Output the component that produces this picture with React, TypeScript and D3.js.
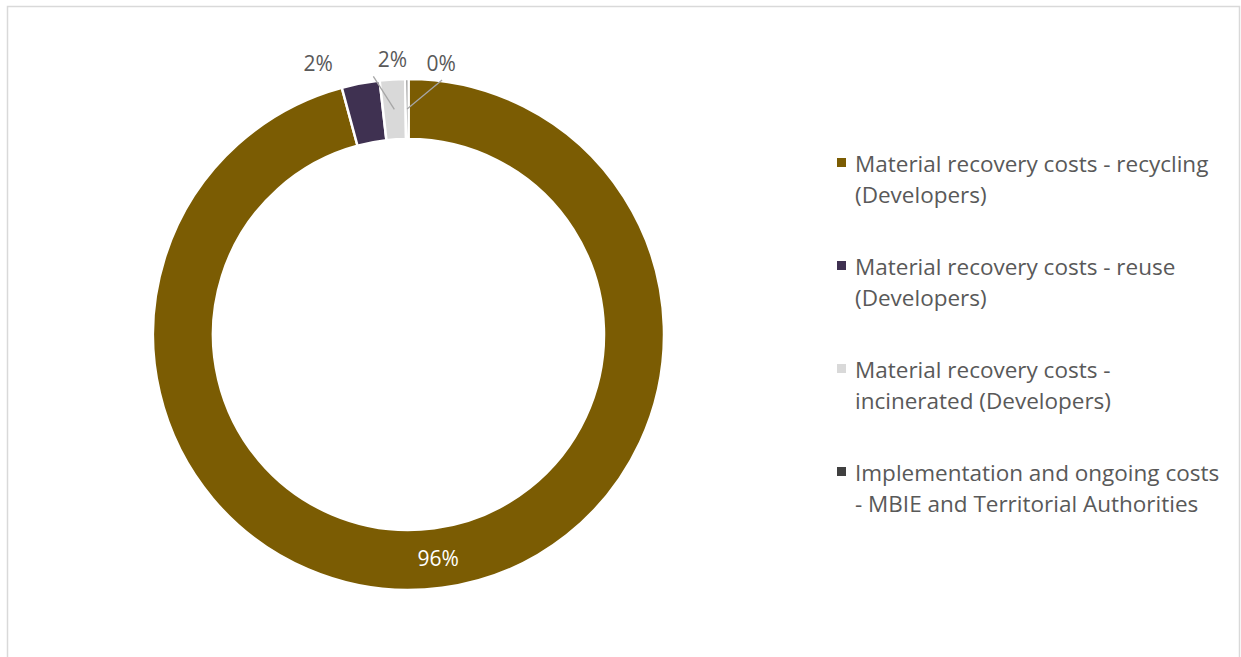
import React from "react";
import * as d3 from "d3";

const categories = [
  "Material recovery costs - recycling (Developers)",
  "Material recovery costs - reuse (Developers)",
  "Material recovery costs - incinerated (Developers)",
  "Implementation and ongoing costs - MBIE and Territorial Authorities",
];
const legendLines = [
  ["Material recovery costs - recycling", "(Developers)"],
  ["Material recovery costs - reuse", "(Developers)"],
  ["Material recovery costs -", "incinerated (Developers)"],
  ["Implementation and ongoing costs", "- MBIE and Territorial Authorities"],
];
const values = [95.8, 2.4, 1.6, 0.2];
const colors = ["#7b5c03", "#3f3151", "#d9d9d9", "#404040"];
// label offsets from the slice centroid, and whether a leader line is drawn
const labelOffsets: [number, number][] = [
  [0, 0],
  [-48, -50],
  [-2, -50],
  [34, -46],
];
const leaders = [false, false, true, true];

const App: React.FC = () => {
  const width = 1241;
  const height = 657;
  const cx = 408.5;
  const cy = 334.5;
  const outerR = 255.5;
  const innerR = 195.5;

  const total = d3.sum(values);
  const pie = d3.pie<number>().sort(null).value((d) => d);
  const arcs = pie(values);
  const arc = d3.arc<d3.PieArcDatum<number>>().innerRadius(innerR).outerRadius(outerR);
  const midArc = d3
    .arc<d3.PieArcDatum<number>>()
    .innerRadius((innerR + outerR) / 2)
    .outerRadius((innerR + outerR) / 2);

  const font = "'Open Sans', 'Noto Sans', sans-serif";

  return (
    <div style={{ position: "absolute", left: 0, top: 0 }}>
      <svg width={width} height={height} style={{ display: "block", background: "#fff" }}>
        <rect x={7.5} y={6.5} width={1232} height={700} fill="none" stroke="#d9d9d9" strokeWidth={1.5} />

        <g transform={`translate(${cx},${cy})`}>
          {arcs.map((a, i) => (
            <path key={i} d={arc(a)!} fill={colors[i]} stroke="#fff" strokeWidth={2.5} />
          ))}
          {arcs.map((a, i) => {
            const [mx, my] = midArc.centroid(a);
            const lx = mx + labelOffsets[i][0];
            const ly = my + labelOffsets[i][1];
            return (
              <g key={`l${i}`}>
                {leaders[i] && (
                  <line
                    x1={mx}
                    y1={my}
                    x2={i === 2 ? lx - 19 : lx + 1}
                    y2={ly + 17}
                    stroke="#a6a6a6"
                    strokeWidth={1.3}
                  />
                )}
                <text
                  x={lx}
                  y={ly}
                  textAnchor="middle"
                  dominantBaseline="central"
                  fontFamily={font}
                  fontSize={21}
                  fill={i === 0 ? "#ffffff" : "#595959"}
                >
                  {`${Math.round((a.value / total) * 100)}%`}
                </text>
              </g>
            );
          })}
        </g>

        <g transform="translate(837,163)">
          {categories.map((c, i) => (
            <g key={c} transform={`translate(0,${i * 103})`}>
              <rect x={0} y={-5} width={9} height={9} fill={colors[i]} />
              {legendLines[i].map((t, j) => (
                <text
                  key={j}
                  x={18}
                  y={j * 31}
                  dominantBaseline="central"
                  fontFamily={font}
                  fontSize={22.5}
                  fill="#595959"
                >
                  {t}
                </text>
              ))}
            </g>
          ))}
        </g>
      </svg>
    </div>
  );
};

export default App;
